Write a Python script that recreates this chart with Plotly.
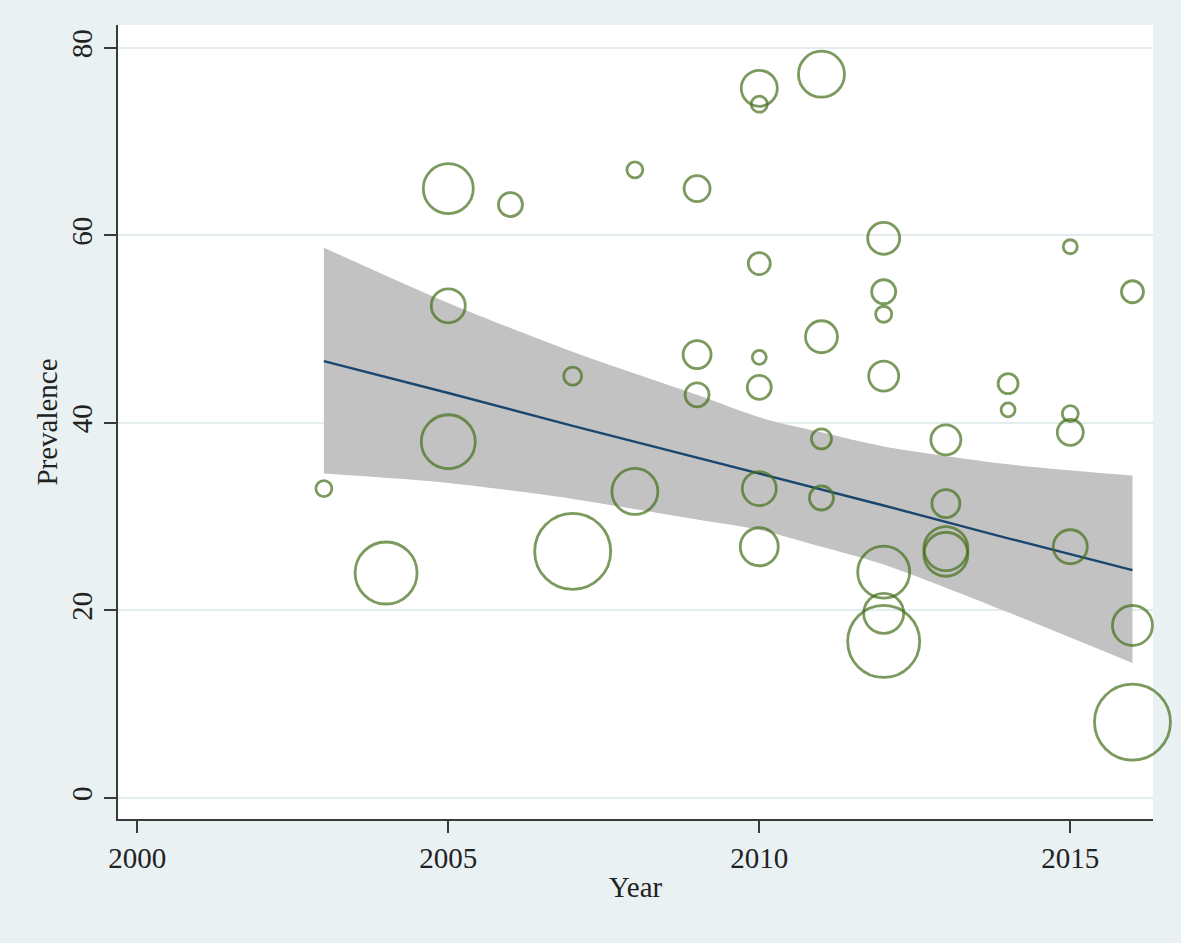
import plotly.graph_objects as go
import numpy as np

# Study-level data: year, prevalence (%), relative study weight (bubble area)
year = [2003, 2004, 2005, 2005, 2005, 2006, 2007, 2007, 2008, 2008,
        2009, 2009, 2009, 2010, 2010, 2010, 2010, 2010, 2010, 2010,
        2011, 2011, 2011, 2011, 2012, 2012, 2012, 2012, 2012, 2012, 2012,
        2013, 2013, 2013, 2013, 2014, 2014, 2015, 2015, 2015, 2015,
        2016, 2016, 2016]
prevalence = [33.0, 24.0, 65.0, 52.5, 38.0, 63.3, 45.0, 26.3, 67.0, 32.7,
              65.0, 47.3, 43.0, 75.7, 74.0, 57.0, 47.0, 43.8, 33.0, 26.8,
              77.2, 49.2, 38.3, 32.0, 59.7, 54.0, 51.6, 45.0, 24.1, 19.7, 16.7,
              38.2, 31.4, 26.6, 26.0, 44.2, 41.4, 58.8, 41.0, 39.0, 26.8,
              54.0, 18.4, 8.1]
weight = [64, 961, 625, 289, 729, 144, 81, 1444, 64, 529,
          169, 196, 144, 324, 64, 121, 49, 144, 289, 361,
          529, 256, 100, 144, 256, 144, 64, 225, 676, 400, 1296,
          225, 196, 484, 484, 100, 49, 49, 64, 169, 289,
          121, 400, 1444]

# Fitted line and 95% CI read at selected years
fit_year = [2003, 2005, 2007, 2009, 2010, 2011, 2012, 2014, 2016]
fit_val = [46.6, 43.2, 39.7, 36.3, 34.6, 32.9, 31.2, 27.7, 24.3]
ci_upper = [58.7, 52.8, 47.6, 43.0, 40.6, 39.0, 37.5, 35.6, 34.4]
ci_lower = [34.6, 33.6, 31.9, 29.7, 28.6, 26.8, 24.9, 19.8, 14.4]

x_ticks = [2000, 2005, 2010, 2015]
y_ticks = [0, 20, 40, 60, 80]

FONT = "Liberation Serif, Times New Roman, serif"
GREEN = "#45701a"
NAVY = "#1a476f"

fig = go.Figure()

fig.add_trace(go.Scatter(
    x=fit_year, y=ci_lower, mode="lines",
    line=dict(width=0, shape="spline", smoothing=0.8, color="#c2c2c2"),
    hoverinfo="skip", showlegend=False))
fig.add_trace(go.Scatter(
    x=fit_year, y=ci_upper, mode="lines", fill="tonexty",
    fillcolor="#c2c2c2",
    line=dict(width=0, shape="spline", smoothing=0.8, color="#c2c2c2"),
    hoverinfo="skip", showlegend=False))

fig.add_trace(go.Scatter(
    x=fit_year, y=fit_val, mode="lines",
    line=dict(color=NAVY, width=2.4), showlegend=False))

sizes = [2 * np.sqrt(w) for w in weight]
fig.add_trace(go.Scatter(
    x=year, y=prevalence, mode="markers", cliponaxis=False,
    marker=dict(size=sizes, sizemode="diameter", color="rgba(0,0,0,0)",
                line=dict(color=GREEN, width=2.8)),
    showlegend=False))

fig.update_layout(
    width=1181, height=943,
    margin=dict(l=118, r=28, t=25, b=124),
    paper_bgcolor="#e9f1f3", plot_bgcolor="white",
    font=dict(family=FONT, size=29, color="#222"),
    xaxis=dict(range=[1999.69, 2016.33], tickvals=x_ticks,
               showgrid=False, zeroline=False,
               showline=True, linecolor="#3a3a3a", linewidth=2,
               ticks="outside", ticklen=12, tickwidth=2, tickcolor="#3a3a3a",
               title=dict(text="Year", standoff=4,
                          font=dict(family=FONT, size=29))),
    yaxis=dict(range=[-2.24, 82.45], tickvals=y_ticks, tickangle=-90,
               showgrid=True, gridcolor="#e3ecef", gridwidth=2,
               zeroline=False,
               showline=True, linecolor="#3a3a3a", linewidth=2,
               ticks="outside", ticklen=12, tickwidth=2, tickcolor="#3a3a3a",
               title=dict(text="Prevalence", standoff=0,
                          font=dict(family=FONT, size=29))),
)

fig.write_html("out.html", config={"displayModeBar": False},
               post_script="document.body.style.margin='0';document.body.style.padding='0';")
